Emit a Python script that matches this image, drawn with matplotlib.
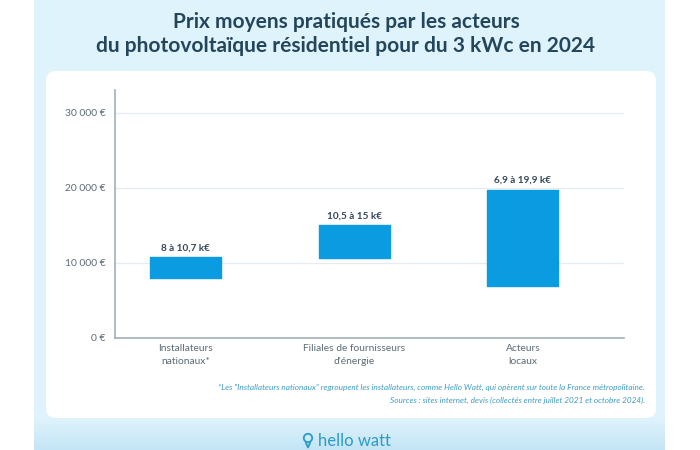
import numpy as np
import matplotlib
matplotlib.use("Agg")
import matplotlib.pyplot as plt
from matplotlib.patches import FancyBboxPatch, Rectangle, Circle

plt.rcParams["font.family"] = ["Lato", "DejaVu Sans"]

categories = ["Installateurs\nnationaux*", "Filiales de fournisseurs\nd'énergie", "Acteurs\nlocaux"]
low_values = [8000, 10600, 6900]
high_values = [10700, 15000, 19700]
bar_labels = ["8 à 10,7 k€", "10,5 à 15 k€", "6,9 à 19,9 k€"]
y_ticks = [0, 10000, 20000, 30000]
y_labels = ["0 €", "10 000 €", "20 000 €", "30 000 €"]

title = "Prix moyens pratiqués par les acteurs\ndu photovoltaïque résidentiel pour du 3 kWc en 2024"
note_1 = "*Les \"Installateurs nationaux\" regroupent les installateurs, comme Hello Watt, qui opèrent sur toute la France métropolitaine."
note_2 = "Sources : sites internet, devis (collectés entre juillet 2021 et octobre 2024)."

DARK = "#24465C"
GREY = "#5C6B76"
BLUE = "#0A9BE0"
NOTE = "#3E9CC4"

W, H = 700, 450
fig = plt.figure(figsize=(7, 4.5), dpi=100, facecolor="white")

# background, in pixel coordinates
bg = fig.add_axes([0, 0, 1, 1])
bg.add_patch(Rectangle((34, 0), 631, 450, fc="#DFF3FC", ec="none"))
grad = np.linspace(0, 1, 40).reshape(-1, 1)
bg.imshow(grad, extent=(34, 665, 450, 418), aspect="auto", zorder=1,
          cmap=matplotlib.colors.LinearSegmentedColormap.from_list("f", ["#DFF3FC", "#C4E5F5"]))
bg.set_xlim(0, W)
bg.set_ylim(H, 0)
bg.axis("off")
bg.add_patch(FancyBboxPatch((54, 79), 594, 331, boxstyle="round,pad=8,rounding_size=10",
                            fc="white", ec="none", zorder=2))
bg.text(346, 34, title, ha="center", va="center", fontsize=15, color=DARK,
        fontweight="bold", linespacing=1.2, zorder=3)
bg.text(645, 387, note_1, ha="right", va="center", fontsize=5.95, style="italic", color=NOTE, zorder=3)
bg.text(645, 400, note_2, ha="right", va="center", fontsize=5.95, style="italic", color=NOTE, zorder=3)

# logo
bg.add_patch(Circle((308, 438), 4.2, fc="none", ec="#2B9CC8", lw=1.3, zorder=3))
bg.plot([306, 308, 310], [443, 447.5, 443], color="#2B9CC8", lw=1.3, zorder=3)
bg.text(318, 441, "hello watt", ha="left", va="center", fontsize=12, color="#2B9CC8", zorder=3)

# chart
ax = fig.add_axes([115 / W, 1 - 337.5 / H, (624 - 115) / W, (337.5 - 90) / H])
ax.patch.set_alpha(0)
x = np.arange(len(categories))
heights = [h - l for h, l in zip(high_values, low_values)]
ax.bar(x, heights, bottom=low_values, width=0.42, color=BLUE, edgecolor=BLUE,
       linewidth=1, joinstyle="round", zorder=3)
for xi, top, lab in zip(x, high_values, bar_labels):
    ax.annotate(lab, (xi, top), xytext=(0, 3.5), textcoords="offset points", ha="center",
                va="bottom", fontsize=7.2, color="#33475A", fontweight="bold")

ax.set_xlim(-0.42, 2.60)
ax.set_ylim(0, 33000)
ax.set_xticks(x, categories, linespacing=1.45)
ax.set_yticks(y_ticks, y_labels)
ax.tick_params(axis="both", length=0, colors=GREY, labelsize=7.4)
ax.tick_params(axis="y", pad=7)
ax.tick_params(axis="x", pad=5)
ax.grid(axis="y", color="#E6EDF2", lw=1, zorder=0)
ax.set_axisbelow(True)
for s in ["top", "right"]:
    ax.spines[s].set_visible(False)
for s in ["left", "bottom"]:
    ax.spines[s].set_color("#9AA8B2")
    ax.spines[s].set_linewidth(1.1)

fig.savefig("out.png", dpi=100)
